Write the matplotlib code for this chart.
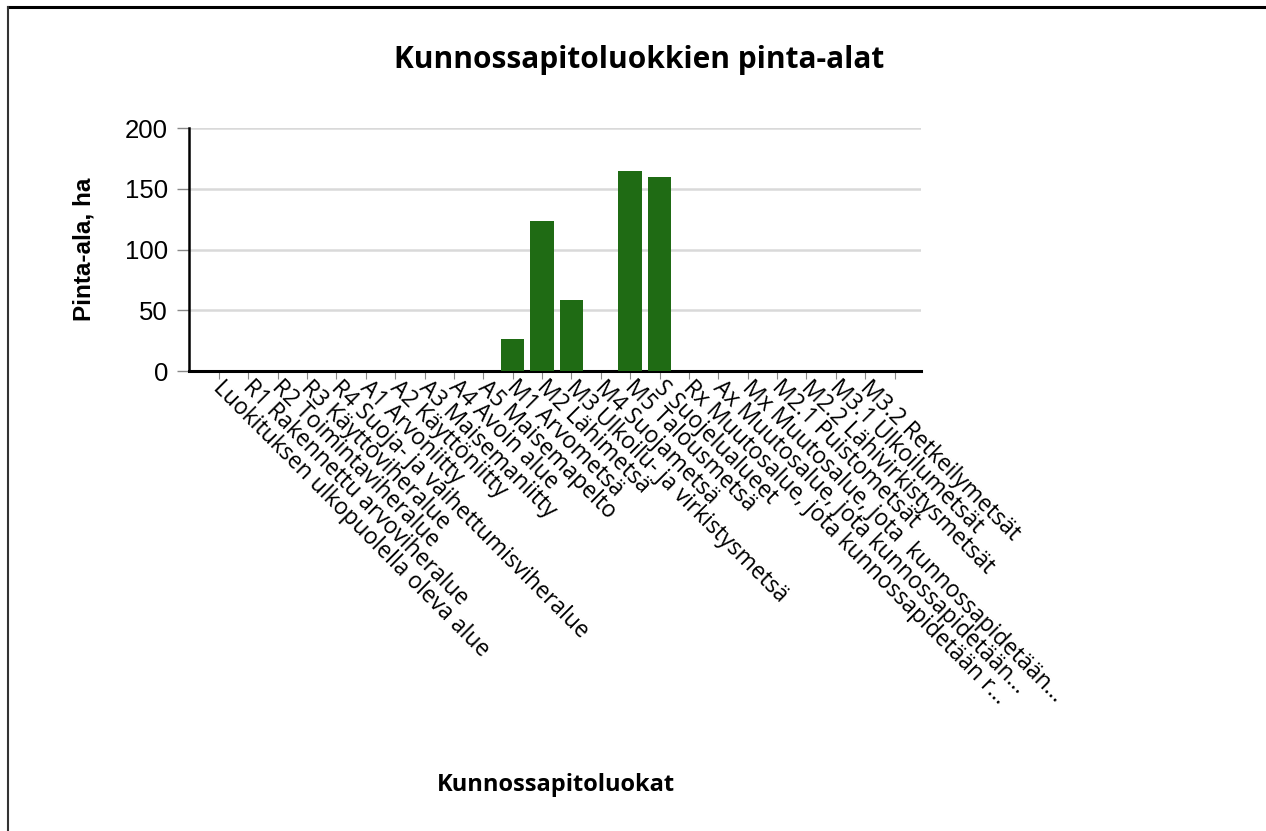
import matplotlib
matplotlib.use("Agg")
import matplotlib.pyplot as plt
from matplotlib.lines import Line2D

categories = [
    "Luokituksen ulkopuolella oleva alue",
    "R1 Rakennettu arvoviheralue",
    "R2 Toimintaviheralue",
    "R3 Käyttöviheralue",
    "R4 Suoja- ja vaihettumisviheralue",
    "A1 Arvoniitty",
    "A2 Käyttöniitty",
    "A3 Maisemaniitty",
    "A4 Avoin alue",
    "A5 Maisemapelto",
    "M1 Arvometsä",
    "M2 Lähimetsä",
    "M3 Ulkoilu- ja virkistysmetsä",
    "M4 Suojametsä",
    "M5 Talousmetsä",
    "S Suojelualueet",
    "Rx Muutosalue, jota kunnossapidetään r...",
    "Ax Muutosalue, jota kunnossapidetään...",
    "Mx Muutosalue, jota  kunnossapidetään...",
    "M2.1 Puistometsät",
    "M2.2 Lähivirkistysmetsät",
    "M3.1 Ulkoilumetsät",
    "M3.2 Retkeilymetsät",
    "",
]
values = [0, 0, 0, 0, 0, 0, 0, 0, 0, 0,
          26.5, 123.5, 58.5, 0, 164.5, 160.0,
          0, 0, 0, 0, 0, 0, 0, 0]
yticks = [0, 50, 100, 150, 200]

W, H = 1266, 831
fig = plt.figure(figsize=(W / 100, H / 100), dpi=100)
ax = fig.add_axes([189 / W, 1 - 371 / H, (921 - 189) / W, (371 - 128) / H])

x = list(range(len(categories)))
ax.bar(x, values, width=0.8, color="#1f6b14", zorder=3)

ax.set_xlim(-1.02, len(categories) - 0.1)
ax.set_ylim(0, 200)
ax.set_yticks(yticks)
ax.set_yticklabels([str(v) for v in yticks], fontsize=18.5, family="Liberation Sans")
ax.yaxis.grid(True, color="#d9d9d9", linewidth=1.8, zorder=0)
ax.set_axisbelow(True)

ax.set_xticks(x)
ax.set_xticklabels(categories, rotation=-45, ha="left", va="center_baseline",
                   rotation_mode="anchor", fontsize=16.5, family="Open Sans")
ax.tick_params(axis="x", length=6, color="#888888", pad=2)
ax.tick_params(axis="y", length=9, color="#888888", pad=6, width=1)

for s in ["top", "right"]:
    ax.spines[s].set_visible(False)
ax.spines["left"].set_linewidth(1.8)
ax.spines["bottom"].set_linewidth(2.2)

fig.text(639 / W, 1 - 60 / H, "Kunnossapitoluokkien pinta-alat", ha="center", va="center",
         fontsize=21.5, fontweight="bold", family="Open Sans")
fig.text(84 / W, 1 - 249 / H, "Pinta-ala, ha", ha="center", va="center", rotation=90,
         fontsize=17.5, fontweight="bold", family="Liberation Sans")
fig.text(556 / W, 1 - 785 / H, "Kunnossapitoluokat", ha="center", va="center",
         fontsize=17, fontweight="bold", family="Open Sans")

# outer frame (top and left edges)
fig.add_artist(Line2D([8 / W, 1], [1 - 6.5 / H, 1 - 6.5 / H], transform=fig.transFigure,
                      color="black", linewidth=2.2))
fig.add_artist(Line2D([8 / W, 8 / W], [0, 1 - 6.5 / H], transform=fig.transFigure,
                      color="#333333", linewidth=1.5))

fig.savefig("out.png", dpi=100)
